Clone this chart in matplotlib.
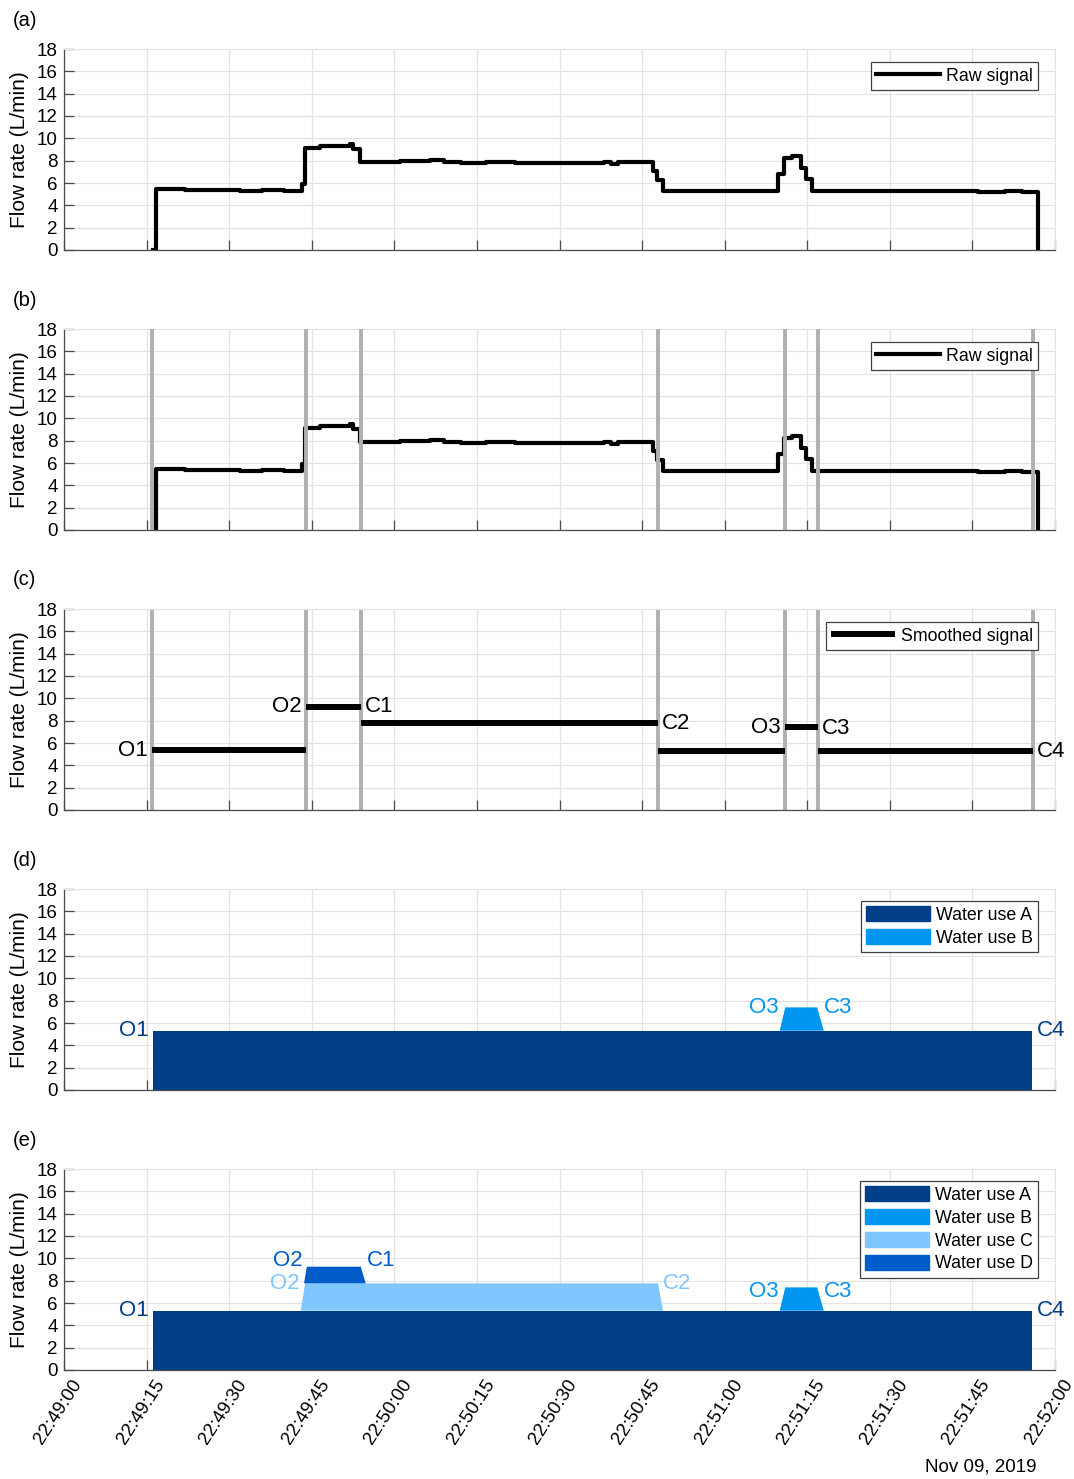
import matplotlib
matplotlib.use("Agg")
import matplotlib.pyplot as plt
from matplotlib.patches import Patch
import matplotlib.transforms as mtransforms

plt.rcParams["font.family"] = ["Liberation Sans", "DejaVu Sans"]

# time axis in seconds after 22:49:00
tick_secs = [0, 15, 30, 45, 60, 75, 90, 105, 120, 135, 150, 165, 180]
tick_labels = ["22:49:00", "22:49:15", "22:49:30", "22:49:45", "22:50:00", "22:50:15",
               "22:50:30", "22:50:45", "22:51:00", "22:51:15", "22:51:30", "22:51:45",
               "22:52:00"]

# raw flow signal (step changes)
raw_t = [16.1, 16.8, 22, 28, 32, 36, 40, 43.2, 43.8, 46.5, 50, 51.9, 52.5, 53.8, 57, 61,
         66.5, 69.0, 72.1, 76.6, 82, 88, 93, 98, 99.3, 100.6, 106.9, 107.8, 108.8, 114,
         120, 124, 129.7, 130.7, 132.2, 133.8, 134.7, 135.8, 141, 146, 151, 156, 161,
         166, 171, 174, 176.9]
raw_v = [0, 5.45, 5.4, 5.35, 5.3, 5.35, 5.25, 5.95, 9.15, 9.3, 9.35, 9.5, 9.05, 7.85, 7.9,
         7.95, 8.05, 7.85, 7.75, 7.85, 7.8, 7.8, 7.75, 7.85, 7.7, 7.85, 7.05, 6.3, 5.25,
         5.25, 5.3, 5.25, 6.8, 8.2, 8.45, 7.35, 6.4, 5.25, 5.25, 5.3, 5.3, 5.25, 5.3,
         5.2, 5.25, 5.2, 0]

# detected events
event_t = [15.9, 44.0, 53.9, 107.9, 131.0, 136.9, 176.0]

# smoothed signal segments
seg_start = [15.9, 44.0, 53.9, 107.9, 131.0, 136.9]
seg_end = [44.0, 53.9, 107.9, 131.0, 136.9, 176.0]
seg_level = [5.33, 9.25, 7.78, 5.24, 7.39, 5.24]

# water uses: ramp-on start/end, ramp-off start/end, base and top flow
use_a_t = [16.1, 16.1, 175.9, 175.9]
use_b_t = [130.0, 131.0, 136.8, 138.0]
use_c_t = [43.0, 43.8, 107.9, 108.8]
use_d_t = [43.6, 44.1, 53.9, 54.8]
use_base = [0, 5.31, 5.31, 7.76]
use_top = [5.31, 7.40, 7.76, 9.25]
use_names = ["Water use A", "Water use B", "Water use C", "Water use D"]
use_colors = ["#003f87", "#0096f0", "#80c6ff", "#005cc8"]

W, H = 1074, 1479
fig = plt.figure(figsize=(W / 100, H / 100), dpi=100)

axes = []
for i in range(5):
    top = 49 + 280 * i
    ax = fig.add_axes([64 / W, 1 - (top + 201) / H, 991 / W, 201 / H])
    ax.set_xlim(0, 180)
    ax.set_ylim(0, 18)
    ax.set_xticks(tick_secs)
    ax.set_yticks(range(0, 19, 2))
    ax.grid(True, color="#e3e3e3", lw=0.9)
    ax.set_axisbelow(True)
    for s in ["top", "right"]:
        ax.spines[s].set_color("#e3e3e3")
    for s in ["left", "bottom"]:
        ax.spines[s].set_color("#4a4a4a")
        ax.spines[s].set_linewidth(0.9)
    ax.tick_params(direction="in", length=7, width=0.9, color="#4a4a4a",
                   labelsize=13.5, pad=4.5, top=False, right=False)
    ax.set_xticklabels([])
    ax.set_ylabel("Flow rate (L/min)", fontsize=15)
    ax.yaxis.set_label_coords(-35 / 991, 0.5)
    fig.text(13 / W, 1 - (20 + 280 * i) / H, "(%s)" % "abcde"[i], fontsize=14.5,
             va="center", ha="left")
    axes.append(ax)


def legend(ax, handles, labels, right_px, top_px, spacing=0.15):
    lg = ax.legend(handles, labels, loc="upper right",
                   bbox_to_anchor=(1 - right_px / 991, 1 - top_px / 201),
                   borderaxespad=0, fancybox=False, framealpha=1, edgecolor="#404040",
                   fontsize=12.8, handlelength=3.6, handleheight=0.9, handletextpad=0.3,
                   borderpad=0.3, labelspacing=spacing)
    lg.get_frame().set_linewidth(0.9)


def tag(ax, text, t, y, side, color, dx=3):
    off = -dx if side == "left" else dx
    ax.annotate(text, (t, y), xytext=(off, 0), textcoords="offset points",
                ha="right" if side == "left" else "left", va="center",
                fontsize=16, color=color)


# (a) and (b): raw signal
for k in (0, 1):
    ax = axes[k]
    (ln,) = ax.step(raw_t, raw_v, where="post", color="black", lw=3, zorder=3)
    if k == 1:
        for t in event_t:
            ax.axvline(t, color="#b0b0b0", lw=2.8, zorder=4)
    legend(ax, [ln], ["Raw signal"], 17, 13)

# (c): smoothed signal
ax = axes[2]
for t in event_t:
    ax.axvline(t, color="#b0b0b0", lw=2.8, zorder=2)
for s, e, v in zip(seg_start, seg_end, seg_level):
    (sm,) = ax.plot([s, e], [v, v], color="black", lw=4.3, solid_capstyle="butt", zorder=3)
legend(ax, [sm], ["Smoothed signal"], 17, 13)
tag(ax, "O1", seg_start[0], seg_level[0], "left", "black")
tag(ax, "O2", seg_start[1], seg_level[1], "left", "black")
tag(ax, "C1", seg_end[1], seg_level[1], "right", "black")
tag(ax, "C2", seg_end[2], seg_level[2], "right", "black")
tag(ax, "O3", seg_start[4], seg_level[4], "left", "black")
tag(ax, "C3", seg_end[4], seg_level[4] - 0.1, "right", "black")
tag(ax, "C4", seg_end[5], seg_level[5], "right", "black")

use_times = [use_a_t, use_b_t, use_c_t, use_d_t]


def draw_use(ax, j):
    t = use_times[j]
    b, h = use_base[j], use_top[j]
    ax.fill([t[0], t[1], t[2], t[3]], [b, h, h, b], color=use_colors[j], lw=0, zorder=3)


# (d)
ax = axes[3]
for j in (0, 1):
    draw_use(ax, j)
legend(ax, [Patch(color=use_colors[j]) for j in (0, 1)], use_names[:2], 17, 12, 0.3)
tag(ax, "O1", use_a_t[0], use_top[0], "left", use_colors[0])
tag(ax, "C4", use_a_t[3], use_top[0], "right", use_colors[0])
tag(ax, "O3", use_b_t[0], use_top[1], "left", use_colors[1], dx=1)
tag(ax, "C3", use_b_t[3], use_top[1], "right", use_colors[1], dx=0)

# (e)
ax = axes[4]
for j in (0, 2, 3, 1):
    draw_use(ax, j)
legend(ax, [Patch(color=use_colors[j]) for j in range(4)], use_names, 17, 12, 0.3)
tag(ax, "O1", use_a_t[0], use_top[0], "left", use_colors[0])
tag(ax, "C4", use_a_t[3], use_top[0], "right", use_colors[0])
tag(ax, "O2", use_d_t[0], use_top[3] + 0.6, "left", use_colors[3], dx=1)
tag(ax, "C1", use_d_t[3], use_top[3] + 0.6, "right", use_colors[3], dx=1)
tag(ax, "O2", use_c_t[0], use_top[2], "left", use_colors[2], dx=1)
tag(ax, "C2", use_c_t[3], use_top[2], "right", use_colors[2], dx=0)
tag(ax, "O3", use_b_t[0], use_top[1] - 0.4, "left", use_colors[1], dx=1)
tag(ax, "C3", use_b_t[3], use_top[1] - 0.4, "right", use_colors[1], dx=0)

ax.set_xticklabels(tick_labels, rotation=57, ha="right", va="top",
                   rotation_mode="anchor", fontsize=13.5)
shift = mtransforms.ScaledTranslation(7 / 100, 0, fig.dpi_scale_trans)
for lab in ax.get_xticklabels():
    lab.set_transform(lab.get_transform() + shift)

fig.text(981 / W, 1 - 1467 / H, "Nov 09, 2019", fontsize=13.5, ha="center", va="center")

fig.savefig("out.png", dpi=100)
